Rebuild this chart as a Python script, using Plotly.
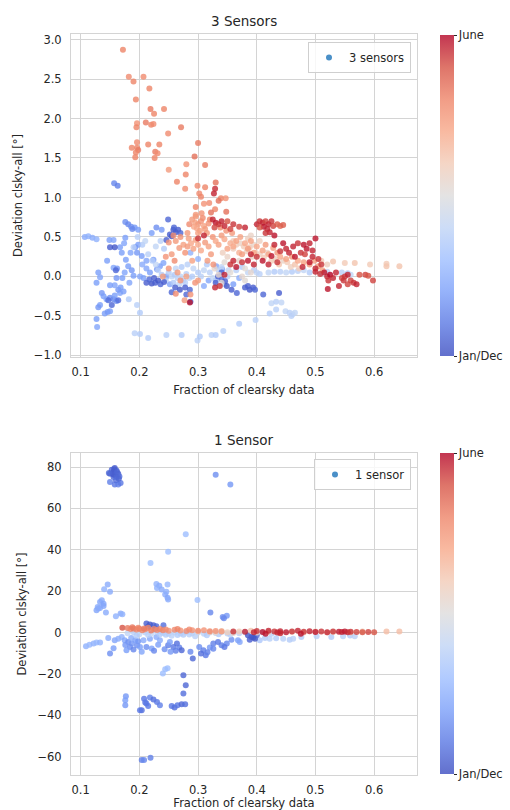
import plotly.graph_objects as go

# ---------------- DATA ----------------
# season value: 0 = Jan/Dec, 1 = June
# 3 sensors panel: (fraction of clearsky data, deviation clsky-all, season)
top_salmon = [
    (0.172, 2.87, 0.8), (0.182, 2.53, 0.78), (0.190, 2.47, 0.8), (0.207, 2.53, 0.78), (0.217, 2.38, 0.8),
    (0.194, 2.24, 0.8), (0.219, 2.12, 0.82), (0.242, 2.12, 0.8), (0.225, 2.06, 0.8), (0.211, 1.95, 0.82),
    (0.220, 1.92, 0.8), (0.224, 1.93, 0.78), (0.196, 1.94, 0.76), (0.195, 1.89, 0.8), (0.271, 1.89, 0.82),
    (0.249, 1.81, 0.78), (0.187, 1.63, 0.8), (0.196, 1.70, 0.78), (0.196, 1.63, 0.8), (0.198, 1.60, 0.82),
    (0.194, 1.57, 0.8), (0.193, 1.51, 0.8), (0.215, 1.67, 0.8), (0.234, 1.67, 0.8), (0.227, 1.58, 0.82),
    (0.231, 1.56, 0.78), (0.226, 1.50, 0.8), (0.300, 1.69, 0.82), (0.294, 1.52, 0.84), (0.312, 1.41, 0.82),
    (0.280, 1.42, 0.76), (0.250, 1.35, 0.74), (0.279, 1.29, 0.8), (0.264, 1.20, 0.8), (0.330, 1.19, 0.84),
    (0.299, 1.15, 0.78), (0.312, 1.13, 0.8), (0.278, 1.11, 0.78), (0.329, 1.11, 0.95), (0.302, 1.05, 0.78),
    (0.305, 1.01, 0.8), (0.339, 0.99, 0.8), (0.347, 0.99, 0.76), (0.335, 0.96, 0.84), (0.319, 0.93, 0.78),
    (0.310, 0.92, 0.76), (0.348, 0.82, 0.84), (0.329, 0.85, 0.8), (0.296, 0.88, 0.8), (0.296, 0.78, 0.74),
    (0.322, 0.81, 0.84),
]
top_orange = [
    (0.290, 0.72, 0.74), (0.295, 0.68, 0.72), (0.300, 0.66, 0.74), (0.305, 0.70, 0.76), (0.310, 0.64, 0.72),
    (0.298, 0.61, 0.7), (0.303, 0.58, 0.72), (0.312, 0.60, 0.74), (0.318, 0.67, 0.76), (0.308, 0.74, 0.78),
    (0.293, 0.63, 0.7), (0.300, 0.55, 0.72), (0.315, 0.55, 0.74), (0.285, 0.66, 0.78), (0.320, 0.72, 0.8),
    (0.296, 0.76, 0.74), (0.306, 0.80, 0.76), (0.262, 0.45, 0.74), (0.270, 0.50, 0.76), (0.275, 0.40, 0.72),
    (0.282, 0.38, 0.74), (0.288, 0.42, 0.7), (0.292, 0.35, 0.72), (0.268, 0.36, 0.74), (0.278, 0.30, 0.76),
    (0.296, 0.46, 0.72), (0.300, 0.40, 0.7), (0.258, 0.52, 0.78), (0.250, 0.43, 0.76), (0.284, 0.48, 0.72),
    (0.305, 0.33, 0.7), (0.312, 0.43, 0.74), (0.318, 0.38, 0.72), (0.325, 0.50, 0.76), (0.330, 0.45, 0.7),
    (0.335, 0.40, 0.72), (0.340, 0.52, 0.74), (0.345, 0.47, 0.7), (0.350, 0.35, 0.72), (0.355, 0.42, 0.68),
    (0.360, 0.38, 0.7), (0.365, 0.45, 0.72), (0.370, 0.30, 0.68), (0.322, 0.28, 0.74), (0.338, 0.62, 0.78),
    (0.348, 0.58, 0.76), (0.358, 0.55, 0.74), (0.372, 0.50, 0.72), (0.380, 0.42, 0.7), (0.385, 0.35, 0.74),
    (0.390, 0.45, 0.72), (0.395, 0.30, 0.7), (0.375, 0.28, 0.74), (0.400, 0.38, 0.7), (0.410, 0.33, 0.72),
    (0.415, 0.40, 0.74), (0.420, 0.28, 0.7), (0.428, 0.36, 0.72), (0.435, 0.30, 0.74), (0.440, 0.25, 0.7),
    (0.450, 0.22, 0.72), (0.460, 0.25, 0.74), (0.470, 0.20, 0.7), (0.480, 0.18, 0.72), (0.490, 0.15, 0.74),
    (0.498, 0.20, 0.72), (0.505, 0.13, 0.74), (0.512, 0.08, 0.72), (0.287, -0.23, 0.76), (0.277, -0.30, 0.74),
    (0.265, 0.05, 0.74), (0.270, -0.05, 0.76), (0.280, 0.00, 0.72), (0.295, -0.08, 0.76), (0.300, -0.05, 0.74),
    (0.245, 0.25, 0.76), (0.255, 0.28, 0.74), (0.260, 0.20, 0.78), (0.250, 0.10, 0.76), (0.240, 0.00, 0.74),
    (0.262, -0.22, 0.78), (0.316, 0.20, 0.74), (0.326, 0.15, 0.76), (0.290, 0.20, 0.72), (0.282, 0.55, 0.74),
]
top_red = [
    (0.400, 0.66, 0.96), (0.405, 0.70, 0.94), (0.410, 0.68, 0.96), (0.415, 0.70, 0.92), (0.420, 0.66, 0.96),
    (0.425, 0.70, 0.94), (0.412, 0.63, 0.98), (0.418, 0.60, 0.96), (0.428, 0.64, 0.92), (0.405, 0.62, 0.9),
    (0.435, 0.66, 0.88), (0.440, 0.64, 0.86), (0.445, 0.65, 0.88), (0.422, 0.56, 0.96), (0.430, 0.52, 0.98),
    (0.415, 0.55, 0.94), (0.325, 0.72, 0.96), (0.330, 0.68, 0.98), (0.335, 0.66, 0.94), (0.340, 0.70, 0.96),
    (0.328, 0.62, 0.92), (0.345, 0.64, 0.96), (0.350, 0.70, 0.9), (0.360, 0.66, 0.94), (0.370, 0.63, 0.92),
    (0.380, 0.62, 0.96), (0.355, 0.60, 0.92), (0.327, 1.05, 0.96), (0.500, 0.48, 0.98), (0.490, 0.42, 0.96),
    (0.480, 0.40, 0.98), (0.470, 0.42, 0.94), (0.462, 0.38, 0.96), (0.485, 0.35, 0.98), (0.495, 0.33, 0.96),
    (0.475, 0.30, 0.94), (0.455, 0.30, 0.96), (0.465, 0.25, 0.98), (0.482, 0.28, 0.92), (0.495, 0.25, 0.96),
    (0.505, 0.22, 0.94), (0.490, 0.18, 0.98), (0.500, 0.10, 0.96), (0.510, 0.15, 0.94), (0.478, 0.12, 0.96),
    (0.445, 0.42, 0.98), (0.450, 0.35, 0.96), (0.440, 0.32, 0.94), (0.430, 0.40, 0.96), (0.425, 0.26, 0.98),
    (0.435, 0.18, 0.94), (0.420, 0.15, 0.96), (0.410, 0.20, 0.98), (0.400, 0.25, 0.94), (0.390, 0.28, 0.96),
    (0.385, 0.20, 0.98), (0.375, 0.18, 0.94), (0.395, 0.15, 0.96), (0.515, 0.05, 0.98), (0.520, 0.00, 0.96),
    (0.525, 0.02, 1.0), (0.530, -0.02, 0.96), (0.522, -0.05, 0.94), (0.535, 0.05, 0.96), (0.545, -0.02, 0.92),
    (0.550, 0.00, 0.94), (0.555, 0.02, 0.96), (0.560, -0.05, 0.92), (0.565, -0.08, 0.94), (0.570, -0.10, 0.96),
    (0.555, -0.10, 0.92), (0.548, -0.05, 0.94), (0.575, 0.02, 0.9), (0.585, 0.02, 0.92), (0.590, 0.01, 0.9),
    (0.598, -0.05, 0.92), (0.540, -0.12, 0.96), (0.521, -0.16, 0.98), (0.508, 0.03, 0.94), (0.500, 0.06, 0.96),
    (0.329, -0.14, 0.96), (0.337, -0.12, 0.94), (0.360, 0.20, 0.96), (0.355, 0.15, 0.94), (0.365, 0.12, 0.98),
    (0.286, -0.33, 0.98), (0.345, 0.02, 0.96), (0.310, 0.52, 0.96), (0.300, 0.48, 0.94),
]
top_pale = [
    (0.360, 0.35, 0.58), (0.365, 0.40, 0.6), (0.372, 0.42, 0.56), (0.378, 0.38, 0.6), (0.383, 0.32, 0.58),
    (0.388, 0.37, 0.62), (0.392, 0.25, 0.56), (0.398, 0.30, 0.6), (0.405, 0.28, 0.58), (0.412, 0.24, 0.6),
    (0.418, 0.30, 0.56), (0.425, 0.20, 0.6), (0.432, 0.22, 0.58), (0.438, 0.15, 0.62), (0.445, 0.20, 0.56),
    (0.452, 0.18, 0.6), (0.458, 0.12, 0.58), (0.465, 0.15, 0.62), (0.472, 0.10, 0.6), (0.350, 0.25, 0.56),
    (0.342, 0.30, 0.58), (0.345, 0.18, 0.52), (0.370, 0.20, 0.54), (0.380, 0.10, 0.52), (0.390, 0.05, 0.54),
    (0.380, -0.05, 0.52), (0.375, 0.00, 0.54), (0.355, 0.05, 0.52), (0.335, 0.02, 0.54), (0.340, -0.08, 0.52),
    (0.328, 0.10, 0.54), (0.360, 0.45, 0.6), (0.385, 0.48, 0.58), (0.390, 0.52, 0.56), (0.530, 0.19, 0.62),
    (0.550, 0.17, 0.6), (0.567, 0.17, 0.62), (0.593, 0.15, 0.6), (0.621, 0.16, 0.6), (0.621, 0.13, 0.62),
    (0.643, 0.13, 0.62), (0.510, 0.20, 0.6), (0.520, 0.15, 0.58), (0.395, 0.40, 0.55), (0.405, 0.45, 0.58),
]
top_lightblue = [
    (0.250, 0.05, 0.36), (0.255, 0.00, 0.4), (0.260, 0.02, 0.36), (0.265, -0.02, 0.38), (0.270, 0.00, 0.4),
    (0.275, -0.05, 0.36), (0.280, 0.03, 0.38), (0.285, -0.02, 0.4), (0.290, 0.00, 0.36), (0.245, -0.05, 0.38),
    (0.258, -0.08, 0.36), (0.268, -0.10, 0.4), (0.278, -0.08, 0.38), (0.262, 0.10, 0.4), (0.272, 0.12, 0.36),
    (0.282, 0.15, 0.38), (0.292, 0.10, 0.4), (0.300, 0.05, 0.36), (0.305, 0.00, 0.38), (0.310, 0.08, 0.4),
    (0.315, 0.15, 0.36), (0.320, 0.05, 0.38), (0.325, -0.02, 0.4), (0.330, -0.05, 0.36), (0.335, 0.08, 0.38),
    (0.340, 0.12, 0.4), (0.345, -0.10, 0.36), (0.350, 0.00, 0.38), (0.238, 0.02, 0.36), (0.232, 0.08, 0.38),
    (0.228, 0.15, 0.4), (0.222, 0.20, 0.36), (0.215, 0.28, 0.38), (0.400, 0.05, 0.4), (0.405, 0.03, 0.38),
    (0.420, 0.05, 0.4), (0.430, 0.06, 0.36), (0.440, 0.06, 0.38), (0.450, 0.05, 0.4), (0.460, 0.06, 0.36),
    (0.470, 0.07, 0.38), (0.480, 0.08, 0.4), (0.490, 0.05, 0.36), (0.510, 0.04, 0.38), (0.520, 0.06, 0.4),
    (0.545, 0.05, 0.38), (0.555, 0.04, 0.36), (0.560, 0.02, 0.4), (0.395, 0.08, 0.38), (0.385, 0.05, 0.4),
    (0.375, 0.12, 0.36), (0.365, 0.08, 0.38), (0.192, -0.72, 0.38), (0.201, -0.73, 0.36), (0.215, -0.78, 0.36),
    (0.246, -0.74, 0.38), (0.272, -0.74, 0.36), (0.299, -0.81, 0.38), (0.303, -0.76, 0.36), (0.323, -0.74, 0.38),
    (0.330, -0.74, 0.36), (0.343, -0.69, 0.38), (0.370, -0.60, 0.36), (0.398, -0.55, 0.38), (0.425, -0.34, 0.4),
    (0.433, -0.32, 0.38), (0.442, -0.33, 0.4), (0.433, -0.42, 0.38), (0.422, -0.47, 0.36), (0.449, -0.44, 0.4),
    (0.456, -0.46, 0.38), (0.461, -0.48, 0.4), (0.459, -0.50, 0.38), (0.465, -0.46, 0.4), (0.190, 0.37, 0.38),
    (0.205, 0.40, 0.36), (0.210, 0.45, 0.4), (0.197, 0.50, 0.38), (0.182, -0.29, 0.36), (0.196, -0.36, 0.38),
    (0.201, -0.46, 0.36), (0.236, 0.45, 0.38), (0.228, 0.38, 0.4), (0.242, 0.35, 0.36), (0.352, 0.08, 0.4),
]
top_blue = [
    (0.107, 0.50, 0.24), (0.113, 0.51, 0.26), (0.120, 0.49, 0.24), (0.127, 0.47, 0.26), (0.149, 0.46, 0.2),
    (0.156, 0.46, 0.22), (0.167, 0.37, 0.2), (0.174, 0.42, 0.22), (0.176, 0.49, 0.2), (0.176, 0.69, 0.16),
    (0.181, 0.66, 0.14), (0.186, 0.63, 0.16), (0.192, 0.62, 0.18), (0.198, 0.59, 0.2), (0.188, 0.60, 0.14),
    (0.130, 0.05, 0.2), (0.133, -0.01, 0.22), (0.127, -0.08, 0.2), (0.136, -0.21, 0.18), (0.139, -0.25, 0.2),
    (0.144, -0.29, 0.22), (0.133, -0.36, 0.2), (0.130, -0.39, 0.18), (0.127, -0.54, 0.2), (0.128, -0.64, 0.22),
    (0.141, -0.47, 0.2), (0.146, -0.45, 0.18), (0.150, -0.44, 0.2), (0.150, -0.27, 0.16), (0.156, -0.29, 0.14),
    (0.161, -0.31, 0.16), (0.158, -0.24, 0.2), (0.167, -0.21, 0.22), (0.173, -0.19, 0.2), (0.164, -0.17, 0.18),
    (0.168, -0.14, 0.2), (0.158, -0.11, 0.22), (0.150, -0.11, 0.2), (0.161, -0.02, 0.18), (0.145, 0.20, 0.2),
    (0.156, 0.11, 0.22), (0.162, 0.10, 0.18), (0.177, 0.21, 0.2), (0.175, 0.05, 0.22), (0.181, 0.13, 0.2),
    (0.187, 0.08, 0.18), (0.190, 0.01, 0.2), (0.183, -0.08, 0.22), (0.171, -0.02, 0.2), (0.196, 0.30, 0.18),
    (0.204, 0.26, 0.2), (0.212, 0.20, 0.22), (0.224, 0.21, 0.2), (0.230, 0.09, 0.18), (0.235, 0.13, 0.2),
    (0.241, 0.17, 0.22), (0.198, 0.40, 0.2), (0.193, 0.37, 0.18), (0.229, 0.62, 0.16), (0.238, 0.59, 0.18),
    (0.221, 0.55, 0.2), (0.157, 1.18, 0.14), (0.163, 1.15, 0.12), (0.201, 0.00, 0.22), (0.207, -0.02, 0.2),
    (0.212, 0.10, 0.22), (0.218, 0.05, 0.2), (0.205, 0.15, 0.24), (0.185, 0.30, 0.22), (0.170, 0.30, 0.2),
    (0.246, 0.00, 0.2), (0.252, -0.10, 0.22), (0.341, 0.09, 0.2), (0.331, 0.13, 0.22), (0.287, 0.30, 0.26),
    (0.300, 0.22, 0.26), (0.310, -0.12, 0.24), (0.318, -0.05, 0.22), (0.360, -0.10, 0.2), (0.370, -0.02, 0.24),
]
top_darkblue = [
    (0.150, 0.37, 0.04), (0.158, 0.37, 0.02), (0.212, -0.08, 0.04), (0.221, -0.09, 0.02), (0.227, -0.08, 0.04),
    (0.217, -0.04, 0.06), (0.225, -0.02, 0.04), (0.232, -0.05, 0.02), (0.249, 0.72, 0.06), (0.252, 0.53, 0.04),
    (0.258, 0.59, 0.02), (0.266, 0.59, 0.04), (0.259, 0.62, 0.06), (0.255, 0.51, 0.02), (0.246, 0.46, 0.04),
    (0.262, 0.56, 0.04), (0.270, 0.55, 0.06), (0.380, -0.14, 0.04), (0.388, -0.17, 0.02), (0.394, -0.14, 0.04),
    (0.397, -0.17, 0.06), (0.385, -0.12, 0.04), (0.411, -0.23, 0.06), (0.438, -0.21, 0.04), (0.286, -0.17, 0.06),
    (0.278, -0.14, 0.04), (0.269, -0.17, 0.02), (0.261, -0.14, 0.04), (0.255, -0.20, 0.06), (0.287, -0.32, 0.04),
    (0.280, -0.23, 0.06), (0.334, 0.00, 0.04), (0.340, -0.04, 0.06), (0.346, -0.06, 0.04), (0.349, -0.12, 0.02),
    (0.357, -0.17, 0.04), (0.366, -0.21, 0.06), (0.153, -0.36, 0.06), (0.147, -0.30, 0.08), (0.160, 0.08, 0.06),
    (0.164, -0.30, 0.08), (0.236, -0.10, 0.06), (0.242, -0.07, 0.04), (0.340, 0.05, 0.06), (0.330, -0.08, 0.04),
]

# 1 sensor panel: (fraction of clearsky data, deviation clsky-all, season)
bot_darkblue = [
    (0.153, 78.7, 0.06), (0.158, 79.5, 0.04), (0.161, 78.4, 0.06), (0.156, 77.6, 0.04), (0.150, 76.8, 0.06),
    (0.164, 76.8, 0.04), (0.158, 76.0, 0.06), (0.166, 75.5, 0.08), (0.156, 75.2, 0.06), (0.150, 72.8, 0.12),
    (0.158, 71.6, 0.1), (0.164, 71.6, 0.12), (0.168, 72.3, 0.1), (0.155, 76.5, 0.04), (0.161, 75.2, 0.06),
    (0.160, 73.6, 0.08), (0.157, 79.0, 0.04), (0.162, 77.6, 0.06), (0.148, 77.1, 0.06), (0.165, 74.4, 0.06),
    (0.212, 4.4, 0.04), (0.218, 3.9, 0.02), (0.224, 3.6, 0.04), (0.229, 3.1, 0.06), (0.215, 2.9, 0.04),
    (0.227, 1.9, 0.06), (0.241, 3.6, 0.08), (0.385, -1.3, 0.02), (0.391, -2.1, 0.04), (0.397, -2.9, 0.02),
    (0.388, -3.4, 0.04), (0.400, -1.3, 0.06), (0.394, -2.4, 0.02), (0.275, -20.6, 0.06), (0.279, -25.4, 0.06),
    (0.275, -29.4, 0.08), (0.201, -37.5, 0.1), (0.291, -12.5, 0.06), (0.272, -8.5, 0.06), (0.305, -10.1, 0.08),
]
bot_blue = [
    (0.330, 76.3, 0.16), (0.355, 71.6, 0.18), (0.146, 23.2, 0.24), (0.140, 20.9, 0.26), (0.150, 19.7, 0.24),
    (0.229, 23.5, 0.26), (0.234, 22.6, 0.24), (0.230, 21.6, 0.26), (0.238, 20.8, 0.24), (0.246, 19.7, 0.26),
    (0.248, 23.2, 0.28), (0.244, 18.4, 0.24), (0.248, 16.9, 0.22), (0.249, 16.0, 0.24), (0.321, 9.7, 0.14),
    (0.342, 7.6, 0.16), (0.349, 8.2, 0.18), (0.344, 7.0, 0.14), (0.133, 14.8, 0.22), (0.136, 15.6, 0.24),
    (0.139, 14.0, 0.22), (0.129, 12.4, 0.24), (0.127, 10.8, 0.22), (0.133, 11.9, 0.24), (0.139, 12.9, 0.22),
    (0.143, 9.7, 0.24), (0.160, 7.9, 0.26), (0.168, 9.2, 0.24), (0.171, 8.9, 0.26), (0.130, 11.6, 0.24),
    (0.109, -6.6, 0.26), (0.115, -5.8, 0.28), (0.122, -5.3, 0.26), (0.127, -4.8, 0.28), (0.133, -4.8, 0.26),
    (0.147, -2.6, 0.24), (0.150, -10.1, 0.16), (0.156, -7.5, 0.2), (0.158, -3.7, 0.22), (0.164, -3.0, 0.24),
    (0.170, -2.1, 0.26), (0.175, -3.7, 0.22), (0.181, -4.5, 0.16), (0.187, -5.3, 0.18), (0.184, -6.9, 0.16),
    (0.190, -8.2, 0.14), (0.196, -6.1, 0.16), (0.201, -6.9, 0.2), (0.178, -8.5, 0.2), (0.193, -3.7, 0.2),
    (0.204, -9.3, 0.22), (0.212, -6.9, 0.16), (0.221, -7.7, 0.2), (0.225, -8.8, 0.14), (0.232, -5.8, 0.2),
    (0.235, -3.7, 0.24), (0.243, -8.0, 0.16), (0.249, -6.1, 0.12), (0.253, -9.3, 0.18), (0.258, -6.9, 0.1),
    (0.264, -5.3, 0.08), (0.268, -7.2, 0.12), (0.252, -4.5, 0.2), (0.287, -9.3, 0.14), (0.302, -6.9, 0.16),
    (0.309, -8.5, 0.12), (0.320, -7.2, 0.18), (0.326, -5.3, 0.12), (0.334, -4.5, 0.1), (0.340, -6.1, 0.12),
    (0.349, -5.3, 0.14), (0.357, -3.4, 0.16), (0.368, -3.7, 0.2), (0.371, -4.5, 0.22), (0.207, -3.7, 0.24),
    (0.218, -2.9, 0.22), (0.229, -2.1, 0.24), (0.198, -4.2, 0.18), (0.186, -2.6, 0.24), (0.176, -6.0, 0.18),
    (0.177, -30.7, 0.18), (0.176, -32.7, 0.2), (0.176, -35.1, 0.18), (0.208, -31.9, 0.1), (0.212, -34.3, 0.12),
    (0.215, -35.4, 0.1), (0.218, -31.4, 0.12), (0.224, -32.3, 0.08), (0.230, -33.5, 0.1), (0.235, -35.1, 0.12),
    (0.204, -37.5, 0.08), (0.210, -33.8, 0.1), (0.255, -35.5, 0.1), (0.260, -36.2, 0.08), (0.265, -35.1, 0.1),
    (0.272, -34.6, 0.06), (0.278, -34.6, 0.08), (0.204, -61.6, 0.12), (0.208, -61.6, 0.14), (0.219, -60.5, 0.12),
    (0.313, -10.9, 0.1), (0.316, -9.5, 0.12), (0.326, -7.8, 0.14), (0.345, -7.0, 0.1), (0.262, -8.8, 0.12),
]
bot_lightblue = [
    (0.279, 47.5, 0.3), (0.249, 39.1, 0.3), (0.219, 33.7, 0.3), (0.299, 15.8, 0.3), (0.244, -17.7, 0.3),
    (0.248, -17.2, 0.3), (0.240, -19.8, 0.3), (0.180, -0.3, 0.4), (0.190, 0.2, 0.38), (0.200, -0.8, 0.4),
    (0.210, 0.0, 0.38), (0.220, -0.5, 0.4), (0.230, 0.3, 0.38), (0.240, -0.2, 0.4), (0.250, -0.6, 0.38),
    (0.260, 0.1, 0.4), (0.270, -0.4, 0.38), (0.280, 0.2, 0.4), (0.290, -0.3, 0.38), (0.300, 0.0, 0.4),
    (0.310, -0.5, 0.38), (0.320, 0.1, 0.4), (0.330, -0.2, 0.38), (0.340, 0.3, 0.4), (0.350, -0.4, 0.38),
    (0.360, 0.0, 0.4), (0.370, -0.3, 0.38), (0.380, 0.2, 0.4), (0.245, -1.0, 0.36), (0.265, -1.2, 0.36),
    (0.285, -0.9, 0.38), (0.335, -0.8, 0.36), (0.405, -3.7, 0.34), (0.414, -2.6, 0.36), (0.422, -2.9, 0.38),
    (0.433, -2.7, 0.36), (0.445, -3.0, 0.38), (0.456, -3.4, 0.36), (0.462, -3.0, 0.38), (0.476, -2.1, 0.36),
    (0.502, -1.8, 0.38), (0.527, -2.1, 0.36), (0.547, -1.8, 0.38), (0.559, -1.4, 0.36), (0.567, -1.8, 0.38),
    (0.195, -1.5, 0.36), (0.215, -1.2, 0.38), (0.235, -0.8, 0.36), (0.255, -1.5, 0.38), (0.275, -1.0, 0.36),
    (0.295, -1.8, 0.38), (0.315, -1.3, 0.36), (0.355, -1.0, 0.38), (0.410, 0.0, 0.4), (0.425, -0.5, 0.38),
]
bot_orange = [
    (0.171, 2.4, 0.9), (0.180, 2.2, 0.82), (0.185, 1.8, 0.8), (0.190, 2.0, 0.82), (0.195, 1.5, 0.8),
    (0.200, 1.9, 0.82), (0.205, 1.2, 0.8), (0.210, 1.6, 0.78), (0.215, 2.3, 0.8), (0.220, 1.0, 0.82),
    (0.225, 1.7, 0.8), (0.230, 1.3, 0.78), (0.240, 1.1, 0.8), (0.250, 0.9, 0.76), (0.260, 1.4, 0.78),
    (0.270, 1.0, 0.76), (0.280, 0.8, 0.78), (0.290, 1.2, 0.76), (0.300, 0.9, 0.78), (0.310, 1.1, 0.76),
    (0.320, 0.7, 0.78), (0.330, 0.8, 0.76), (0.340, 0.6, 0.74), (0.188, 2.6, 0.82), (0.198, 2.3, 0.8),
    (0.208, 2.0, 0.82), (0.235, 1.8, 0.8), (0.245, 1.5, 0.78), (0.265, 1.7, 0.8), (0.285, 1.5, 0.78),
]
bot_red = [
    (0.360, 0.6, 0.94), (0.380, 0.4, 0.96), (0.400, 0.8, 0.94), (0.410, 0.3, 0.98), (0.420, 0.9, 0.96),
    (0.430, 0.5, 0.94), (0.440, 0.7, 0.96), (0.450, 0.2, 0.98), (0.460, 0.6, 0.94), (0.470, 0.9, 0.96),
    (0.480, 0.4, 0.94), (0.490, 0.7, 0.96), (0.500, 0.3, 0.98), (0.510, 0.5, 0.94), (0.520, 0.2, 0.96),
    (0.530, 0.6, 0.94), (0.540, 0.4, 0.98), (0.545, 0.3, 0.96), (0.550, 0.5, 0.98), (0.555, 0.2, 0.96),
    (0.560, 0.4, 0.94), (0.570, 0.3, 0.92), (0.580, 0.2, 0.9), (0.590, 0.3, 0.92), (0.600, 0.2, 0.9),
    (0.415, -0.5, 0.98), (0.440, -0.3, 0.96), (0.475, -0.6, 0.98), (0.395, 0.2, 0.96), (0.435, 0.0, 0.96),
]
bot_pale = [
    (0.300, 0.5, 0.6), (0.320, 0.3, 0.62), (0.340, 0.8, 0.6), (0.350, 0.2, 0.58), (0.370, 0.5, 0.6),
    (0.390, 0.9, 0.62), (0.400, 0.1, 0.58), (0.420, 0.3, 0.6), (0.440, 0.0, 0.62), (0.460, 0.4, 0.58),
    (0.480, 0.1, 0.6), (0.500, 0.6, 0.62), (0.520, 0.0, 0.6), (0.530, 0.3, 0.58), (0.560, 0.1, 0.6),
    (0.580, 0.5, 0.62), (0.621, 0.5, 0.64), (0.643, 0.5, 0.64), (0.330, 0.0, 0.55), (0.360, -0.2, 0.55),
]

month_ticks = [0, 1]
month_labels = ["Jan/Dec", "June"]

# ---------------- STYLE ----------------
a = 0.8
coolwarm = [
    [0.0, f"rgba(59,76,192,{a})"], [0.1, f"rgba(89,119,227,{a})"], [0.2, f"rgba(123,159,249,{a})"],
    [0.3, f"rgba(158,190,255,{a})"], [0.4, f"rgba(192,212,245,{a})"], [0.5, f"rgba(221,220,220,{a})"],
    [0.6, f"rgba(242,203,183,{a})"], [0.7, f"rgba(247,168,137,{a})"], [0.8, f"rgba(238,132,104,{a})"],
    [0.9, f"rgba(214,82,68,{a})"], [1.0, f"rgba(180,4,38,{a})"],
]
FONT = "DejaVu Sans"
TXT = "#262626"
GRID = "#d4d4d4"

W, H = 510, 810
L, R, T, B = 71, 93, 34, 35
PW, PH = W - L - R, H - T - B


def py(pix):
    return (H - B - pix) / PH


def px(pix):
    return (pix - L) / PW


def unzip(*groups):
    pts = [p for g in groups for p in g]
    return [p[0] for p in pts], [p[1] for p in pts], [p[2] for p in pts]


tx, ty, tc = unzip(top_blue, top_lightblue, top_darkblue, top_pale, top_orange, top_salmon, top_red)
bx, by, bc = unzip(bot_blue, bot_lightblue, bot_darkblue, bot_pale, bot_orange, bot_red)

fig = go.Figure()
fig.add_trace(go.Scatter(
    x=tx, y=ty, mode="markers", showlegend=False, xaxis="x", yaxis="y",
    marker=dict(size=6, color=tc, coloraxis="coloraxis", line=dict(width=0)),
))
fig.add_trace(go.Scatter(
    x=bx, y=by, mode="markers", showlegend=False, xaxis="x2", yaxis="y2",
    marker=dict(size=6, color=bc, coloraxis="coloraxis2", line=dict(width=0)),
))
fig.add_trace(go.Scatter(x=[None], y=[None], mode="markers", name="3 sensors", legend="legend",
                         marker=dict(size=6, color="#4a90c8"), xaxis="x", yaxis="y"))
fig.add_trace(go.Scatter(x=[None], y=[None], mode="markers", name="1 sensor", legend="legend2",
                         marker=dict(size=6, color="#4a90c8"), xaxis="x2", yaxis="y2"))

axis_common = dict(showgrid=True, gridcolor=GRID, gridwidth=1, zeroline=False, showline=True,
                   linecolor=GRID, linewidth=1, mirror=True, ticks="", automargin=False,
                   tickfont=dict(family=FONT, size=11.5, color=TXT))
xt = dict(text="Fraction of clearsky data", font=dict(family=FONT, size=11.5, color=TXT), standoff=8)
yt = dict(text="Deviation clsky-all [°]", font=dict(family=FONT, size=11.5, color=TXT), standoff=8)

top_dom = [py(357), py(34)]
bot_dom = [py(775), py(453)]


def cbar(ypix_top, ypix_bot):
    return dict(
        colorscale=coolwarm, cmin=0, cmax=1,
        colorbar=dict(
            x=px(440), xanchor="left", xref="paper", thickness=14, thicknessmode="pixels",
            y=py((ypix_top + ypix_bot) / 2), yanchor="middle", len=(ypix_bot - ypix_top) / PH, lenmode="fraction",
            tickvals=month_ticks, ticktext=month_labels, ticks="outside", ticklen=3, tickcolor=TXT,
            tickfont=dict(family=FONT, size=11.5, color=TXT), outlinewidth=0, xpad=0, ypad=0,
        ),
    )


legend_style = dict(bgcolor="rgba(255,255,255,0.8)", bordercolor="#cfcfcf", borderwidth=1,
                    font=dict(family=FONT, size=11.5, color=TXT), xanchor="right", yanchor="top",
                    itemwidth=30)

fig.update_layout(
    width=W, height=H, margin=dict(l=L, r=R, t=T, b=B, autoexpand=False),
    paper_bgcolor="white", plot_bgcolor="white",
    font=dict(family=FONT, color=TXT),
    xaxis=dict(domain=[0, 1], anchor="y", range=[0.0835, 0.673], dtick=0.1, tickformat=".1f",
               ticklabelstandoff=4, title=xt, **axis_common),
    yaxis=dict(domain=top_dom, anchor="x", range=[-1.02, 3.07], dtick=0.5, tickformat=".1f",
               ticklabelstandoff=6, title=yt, **axis_common),
    xaxis2=dict(domain=[0, 1], anchor="y2", range=[0.0835, 0.673], dtick=0.1, tickformat=".1f",
                ticklabelstandoff=4, title=xt, **axis_common),
    yaxis2=dict(domain=bot_dom, anchor="x2", range=[-68.8, 86.8], dtick=20,
                ticklabelstandoff=6, title=yt, **axis_common),
    coloraxis=cbar(35, 356),
    coloraxis2=cbar(453, 774),
    legend=dict(x=px(411), y=py(42), **legend_style),
    legend2=dict(x=px(411), y=py(459), **legend_style),
    annotations=[
        dict(text="3 Sensors", x=0.5, y=py(21), xref="paper", yref="paper", showarrow=False,
             font=dict(family=FONT, size=13.5, color=TXT), xanchor="center", yanchor="middle"),
        dict(text="1 Sensor", x=0.5, y=py(440), xref="paper", yref="paper", showarrow=False,
             font=dict(family=FONT, size=13.5, color=TXT), xanchor="center", yanchor="middle"),
    ],
)

fig.write_html("out.html")
